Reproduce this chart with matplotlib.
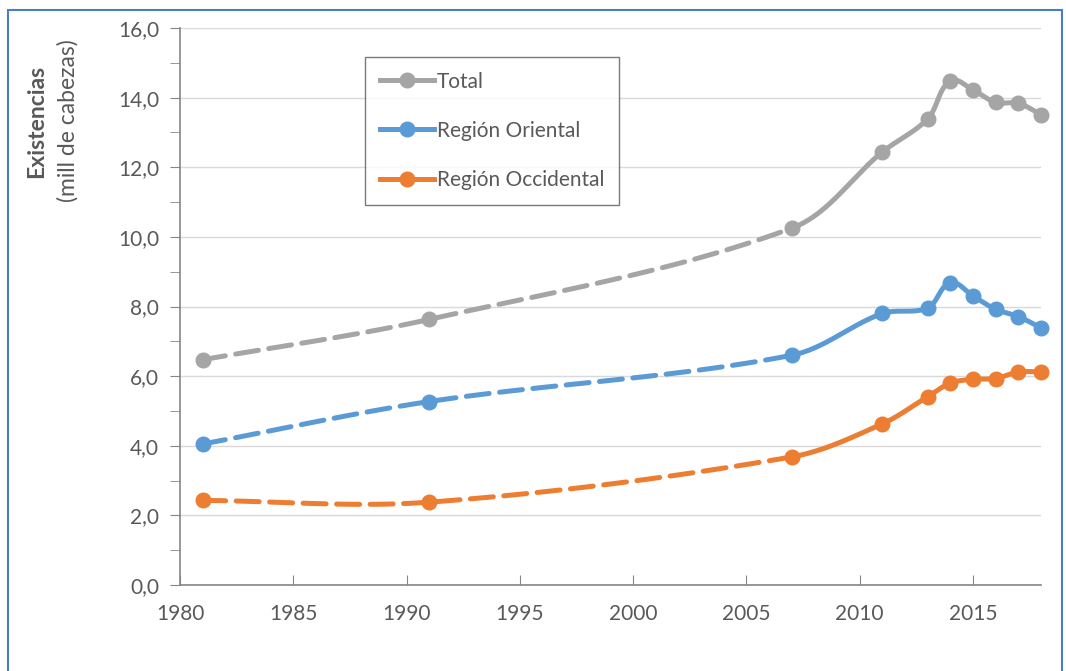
import numpy as np
import matplotlib.pyplot as plt
from matplotlib.lines import Line2D
from matplotlib.patches import Rectangle

# data (mill de cabezas)
years = [1981, 1991, 2007, 2011, 2013, 2014, 2015, 2016, 2017, 2018]
total = [6.47, 7.63, 10.25, 12.44, 13.39, 14.48, 14.22, 13.86, 13.84, 13.51]
oriental = [4.05, 5.27, 6.60, 7.80, 7.96, 8.68, 8.30, 7.92, 7.71, 7.39]
occidental = [2.43, 2.38, 3.68, 4.63, 5.41, 5.80, 5.91, 5.93, 6.12, 6.12]
n_dashed = 3  # first points joined by dashed line (1981-1991-2007)

series = [
    ("Total", total, "#A5A5A5"),
    ("Región Oriental", oriental, "#5B9BD5"),
    ("Región Occidental", occidental, "#ED7D31"),
]

txt = "#595959"
plt.rcParams['font.family'] = ['Lato', 'DejaVu Sans']

# rough screen scale (px per unit) so the smoothing behaves like on screen
SX, SY = 22.65, 34.8


def smooth_segment(xs, ys, i, n=50):
    # smoothed line between point i and i+1, tangents scaled by segment length
    p = np.column_stack([np.asarray(xs) * SX, np.asarray(ys) * SY]).astype(float)
    p0 = p[max(i - 1, 0)]
    p1 = p[i]
    p2 = p[i + 1]
    p3 = p[min(i + 2, len(p) - 1)]
    L = np.linalg.norm(p2 - p1)
    d1 = p2 - p0
    d2 = p3 - p1
    c1 = p1 + d1 / np.linalg.norm(d1) * L / 3.0
    c2 = p2 - d2 / np.linalg.norm(d2) * L / 3.0
    t = np.linspace(0, 1, n)[:, None]
    b = ((1 - t) ** 3) * p1 + 3 * ((1 - t) ** 2) * t * c1 + 3 * (1 - t) * t ** 2 * c2 + t ** 3 * p2
    return b[:, 0] / SX, b[:, 1] / SY


fig = plt.figure(figsize=(10.66, 6.71), dpi=100)
ax = fig.add_axes([180 / 1066, 1 - 585 / 671, (1041 - 180) / 1066, (585 - 28) / 671])

for name, vals, col in series:
    dx, dy = [], []
    for i in range(n_dashed - 1):
        sx, sy = smooth_segment(years, vals, i)
        dx.extend(sx)
        dy.extend(sy)
    ax.plot(dx, dy, color=col, lw=3.6, dashes=(4.6, 2.1), dash_capstyle='round', zorder=3)
    sx_all, sy_all = [], []
    for i in range(n_dashed - 1, len(years) - 1):
        sx, sy = smooth_segment(years, vals, i)
        sx_all.extend(sx)
        sy_all.extend(sy)
    ax.plot(sx_all, sy_all, color=col, lw=3.6, solid_capstyle='round', zorder=3)
    ax.plot(years, vals, 'o', color=col, ms=10.5, zorder=4, clip_on=False)

ax.set_xlim(1980, 2018)
ax.set_ylim(0, 16)
ax.set_xticks(range(1980, 2016, 5))
ax.set_yticks(np.arange(0, 17, 2))
ax.set_yticks(np.arange(1, 16, 2), minor=True)
ax.set_yticklabels([f"{v:.1f}".replace('.', ',') for v in np.arange(0, 17, 2)])
ax.yaxis.grid(True, color="#D9D9D9", lw=1)
ax.set_axisbelow(True)
for s in ['top', 'right']:
    ax.spines[s].set_visible(False)
for s in ['left', 'bottom']:
    ax.spines[s].set_color("#868686")
    ax.spines[s].set_linewidth(1.2)
ax.tick_params(axis='x', direction='in', length=7, color="#868686", labelsize=15,
               labelcolor=txt, pad=14)
ax.tick_params(axis='y', which='both', direction='out', length=7, color="#868686",
               labelsize=15, labelcolor=txt, pad=8)

handles = [Line2D([], [], color=c, lw=3.6, marker='o', ms=10.5) for _, _, c in series]
leg = ax.legend(handles, [s[0] for s in series], loc='upper left',
                bbox_to_anchor=((365 - 180) / 861, 1 - (57 - 28) / 557),
                borderaxespad=0, frameon=True, fancybox=False, fontsize=15,
                labelspacing=1.4, handlelength=2.6, handletextpad=0.15,
                borderpad=0.7, labelcolor=txt)
leg.get_frame().set_edgecolor("#595959")
leg.get_frame().set_linewidth(1.0)

fig.text(37 / 1066, 1 - 121 / 671, "Existencias", rotation=90, ha='center', va='center',
         fontsize=16.5, fontweight='bold', color=txt)
fig.text(68 / 1066, 1 - 121 / 671, "(mill de cabezas)", rotation=90, ha='center', va='center',
         fontsize=16.5, color=txt)

fig.patches.append(Rectangle((8 / 1066, -0.05), (1062 - 8) / 1066, 1.05 - 10 / 671,
                             transform=fig.transFigure, fill=False,
                             edgecolor="#4A7EC0", lw=1.5))

fig.savefig("out.png", dpi=100)
